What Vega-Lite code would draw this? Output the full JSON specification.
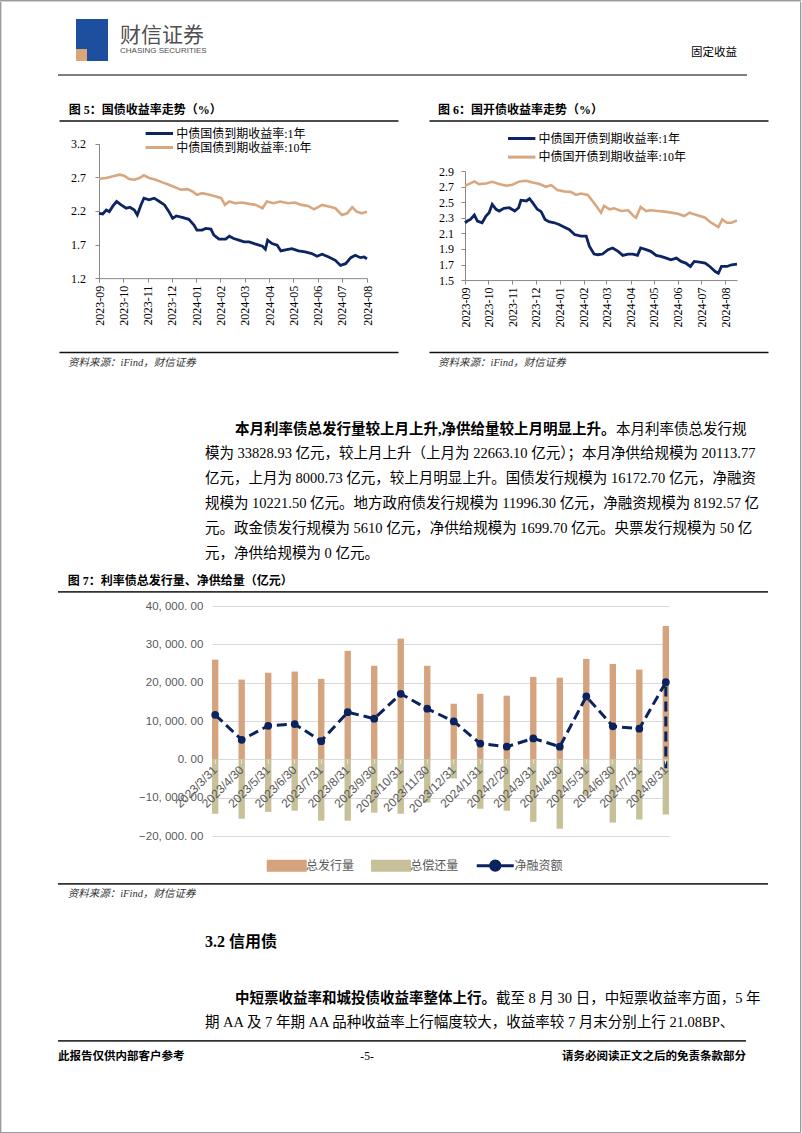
{
"$schema": "https://vega.github.io/schema/vega-lite/v6.json",
"background": "white",
"padding": 0,
"spacing": 0,
"resolve": {"scale": {"color": "independent"}},
"config": {
  "view": {"stroke": null},
  "title": {"anchor": "start", "frame": "group", "orient": "top", "baseline": "alphabetic", "color": "#000", "font": "Liberation Serif, Noto Sans CJK SC", "fontWeight": "normal"}
},
"datasets": {
  "g1": [
    {"d":"2023-09-01","v":2.165},{"d":"2023-09-06","v":2.155},{"d":"2023-09-11","v":2.215},{"d":"2023-09-15","v":2.19},{"d":"2023-09-20","v":2.275},{"d":"2023-09-25","v":2.34},{"d":"2023-10-01","v":2.29},{"d":"2023-10-08","v":2.24},{"d":"2023-10-13","v":2.255},{"d":"2023-10-19","v":2.215},{"d":"2023-10-23","v":2.14},{"d":"2023-10-28","v":2.29},{"d":"2023-11-01","v":2.39},{"d":"2023-11-08","v":2.365},{"d":"2023-11-15","v":2.39},{"d":"2023-11-22","v":2.34},{"d":"2023-11-29","v":2.29},{"d":"2023-12-05","v":2.19},{"d":"2023-12-10","v":2.09},{"d":"2023-12-15","v":2.125},{"d":"2023-12-23","v":2.105},{"d":"2024-01-01","v":2.075},{"d":"2024-01-08","v":1.99},{"d":"2024-01-12","v":1.915},{"d":"2024-01-19","v":1.915},{"d":"2024-01-24","v":1.94},{"d":"2024-01-31","v":1.93},{"d":"2024-02-04","v":1.84},{"d":"2024-02-11","v":1.78},{"d":"2024-02-20","v":1.78},{"d":"2024-02-25","v":1.825},{"d":"2024-03-02","v":1.79},{"d":"2024-03-09","v":1.765},{"d":"2024-03-16","v":1.74},{"d":"2024-03-23","v":1.74},{"d":"2024-04-01","v":1.705},{"d":"2024-04-10","v":1.675},{"d":"2024-04-14","v":1.63},{"d":"2024-04-17","v":1.765},{"d":"2024-04-23","v":1.715},{"d":"2024-04-30","v":1.69},{"d":"2024-05-05","v":1.605},{"d":"2024-05-13","v":1.625},{"d":"2024-05-20","v":1.64},{"d":"2024-05-29","v":1.605},{"d":"2024-06-07","v":1.59},{"d":"2024-06-16","v":1.565},{"d":"2024-06-23","v":1.525},{"d":"2024-06-30","v":1.555},{"d":"2024-07-09","v":1.515},{"d":"2024-07-18","v":1.465},{"d":"2024-07-25","v":1.39},{"d":"2024-08-01","v":1.415},{"d":"2024-08-08","v":1.505},{"d":"2024-08-14","v":1.54},{"d":"2024-08-21","v":1.505},{"d":"2024-08-26","v":1.515},{"d":"2024-08-30","v":1.49}
  ],
  "g10": [
    {"d":"2023-09-01","v":2.68},{"d":"2023-09-11","v":2.69},{"d":"2023-09-20","v":2.715},{"d":"2023-09-29","v":2.74},{"d":"2023-10-05","v":2.725},{"d":"2023-10-12","v":2.675},{"d":"2023-10-19","v":2.665},{"d":"2023-10-26","v":2.69},{"d":"2023-11-01","v":2.73},{"d":"2023-11-08","v":2.69},{"d":"2023-11-17","v":2.665},{"d":"2023-11-26","v":2.625},{"d":"2023-12-05","v":2.59},{"d":"2023-12-14","v":2.55},{"d":"2023-12-21","v":2.515},{"d":"2023-12-30","v":2.525},{"d":"2024-01-06","v":2.49},{"d":"2024-01-12","v":2.44},{"d":"2024-01-19","v":2.465},{"d":"2024-01-29","v":2.44},{"d":"2024-02-07","v":2.415},{"d":"2024-02-14","v":2.39},{"d":"2024-02-19","v":2.29},{"d":"2024-02-25","v":2.34},{"d":"2024-03-04","v":2.315},{"d":"2024-03-13","v":2.325},{"d":"2024-03-23","v":2.305},{"d":"2024-04-01","v":2.29},{"d":"2024-04-10","v":2.24},{"d":"2024-04-16","v":2.34},{"d":"2024-04-25","v":2.315},{"d":"2024-05-04","v":2.34},{"d":"2024-05-15","v":2.315},{"d":"2024-05-24","v":2.325},{"d":"2024-06-02","v":2.29},{"d":"2024-06-11","v":2.275},{"d":"2024-06-19","v":2.225},{"d":"2024-06-30","v":2.29},{"d":"2024-07-09","v":2.265},{"d":"2024-07-18","v":2.24},{"d":"2024-07-27","v":2.14},{"d":"2024-08-03","v":2.165},{"d":"2024-08-10","v":2.255},{"d":"2024-08-16","v":2.19},{"d":"2024-08-23","v":2.165},{"d":"2024-08-30","v":2.19}
  ],
  "k1": [
    {"d":"2023-09-01","v":2.238},{"d":"2023-09-04","v":2.26},{"d":"2023-09-08","v":2.281},{"d":"2023-09-13","v":2.337},{"d":"2023-09-17","v":2.259},{"d":"2023-09-23","v":2.238},{"d":"2023-09-28","v":2.324},{"d":"2023-10-02","v":2.368},{"d":"2023-10-06","v":2.476},{"d":"2023-10-11","v":2.411},{"d":"2023-10-15","v":2.389},{"d":"2023-10-21","v":2.424},{"d":"2023-10-28","v":2.432},{"d":"2023-11-04","v":2.389},{"d":"2023-11-09","v":2.432},{"d":"2023-11-12","v":2.528},{"d":"2023-11-19","v":2.519},{"d":"2023-11-23","v":2.549},{"d":"2023-11-27","v":2.497},{"d":"2023-12-03","v":2.411},{"d":"2023-12-08","v":2.381},{"d":"2023-12-13","v":2.281},{"d":"2023-12-18","v":2.251},{"d":"2023-12-25","v":2.238},{"d":"2023-12-31","v":2.216},{"d":"2024-01-07","v":2.181},{"d":"2024-01-13","v":2.151},{"d":"2024-01-20","v":2.086},{"d":"2024-01-28","v":2.065},{"d":"2024-02-04","v":2.065},{"d":"2024-02-08","v":1.935},{"d":"2024-02-14","v":1.835},{"d":"2024-02-19","v":1.826},{"d":"2024-02-25","v":1.835},{"d":"2024-03-03","v":1.891},{"d":"2024-03-09","v":1.913},{"d":"2024-03-16","v":1.87},{"d":"2024-03-22","v":1.818},{"d":"2024-03-29","v":1.835},{"d":"2024-04-04","v":1.835},{"d":"2024-04-10","v":1.818},{"d":"2024-04-14","v":1.913},{"d":"2024-04-21","v":1.891},{"d":"2024-04-27","v":1.87},{"d":"2024-05-04","v":1.818},{"d":"2024-05-10","v":1.805},{"d":"2024-05-17","v":1.783},{"d":"2024-05-23","v":1.761},{"d":"2024-05-30","v":1.783},{"d":"2024-06-05","v":1.74},{"d":"2024-06-11","v":1.718},{"d":"2024-06-17","v":1.675},{"d":"2024-06-22","v":1.74},{"d":"2024-06-29","v":1.731},{"d":"2024-07-06","v":1.718},{"d":"2024-07-12","v":1.675},{"d":"2024-07-19","v":1.61},{"d":"2024-07-23","v":1.588},{"d":"2024-07-27","v":1.675},{"d":"2024-08-03","v":1.675},{"d":"2024-08-09","v":1.697},{"d":"2024-08-16","v":1.705}
  ],
  "k10": [
    {"d":"2023-09-01","v":2.714},{"d":"2023-09-06","v":2.736},{"d":"2023-09-13","v":2.77},{"d":"2023-09-19","v":2.736},{"d":"2023-09-28","v":2.744},{"d":"2023-10-06","v":2.766},{"d":"2023-10-15","v":2.736},{"d":"2023-10-24","v":2.714},{"d":"2023-11-01","v":2.727},{"d":"2023-11-10","v":2.77},{"d":"2023-11-19","v":2.779},{"d":"2023-11-27","v":2.757},{"d":"2023-12-06","v":2.736},{"d":"2023-12-14","v":2.701},{"d":"2023-12-21","v":2.723},{"d":"2023-12-29","v":2.658},{"d":"2024-01-07","v":2.64},{"d":"2024-01-15","v":2.636},{"d":"2024-01-22","v":2.597},{"d":"2024-01-28","v":2.614},{"d":"2024-02-06","v":2.597},{"d":"2024-02-12","v":2.519},{"d":"2024-02-19","v":2.424},{"d":"2024-02-23","v":2.368},{"d":"2024-02-27","v":2.454},{"d":"2024-03-05","v":2.411},{"d":"2024-03-11","v":2.424},{"d":"2024-03-20","v":2.389},{"d":"2024-03-29","v":2.398},{"d":"2024-04-05","v":2.324},{"d":"2024-04-08","v":2.303},{"d":"2024-04-14","v":2.441},{"d":"2024-04-21","v":2.389},{"d":"2024-04-27","v":2.398},{"d":"2024-05-06","v":2.389},{"d":"2024-05-15","v":2.381},{"d":"2024-05-23","v":2.368},{"d":"2024-06-01","v":2.355},{"d":"2024-06-09","v":2.324},{"d":"2024-06-16","v":2.368},{"d":"2024-06-22","v":2.346},{"d":"2024-06-29","v":2.324},{"d":"2024-07-06","v":2.303},{"d":"2024-07-12","v":2.251},{"d":"2024-07-19","v":2.207},{"d":"2024-07-23","v":2.181},{"d":"2024-07-28","v":2.281},{"d":"2024-08-03","v":2.238},{"d":"2024-08-09","v":2.238},{"d":"2024-08-16","v":2.268}
  ],
  "f7": [
    {"月份":"2023/3/31","总发行量":26000,"总偿还量":-14200,"净融资额":11600},
    {"月份":"2023/4/30","总发行量":20800,"总偿还量":-15500,"净融资额":5100},
    {"月份":"2023/5/31","总发行量":22600,"总偿还量":-13700,"净融资额":8750},
    {"月份":"2023/6/30","总发行量":22900,"总偿还量":-13400,"净融资额":9200},
    {"月份":"2023/7/31","总发行量":21000,"总偿还量":-16000,"净融资额":4750},
    {"月份":"2023/8/31","总发行量":28300,"总偿还量":-16000,"净融资额":12300},
    {"月份":"2023/9/30","总发行量":24400,"总偿还量":-13900,"净融资额":10600},
    {"月份":"2023/10/31","总发行量":31500,"总偿还量":-14200,"净融资额":17100},
    {"月份":"2023/11/30","总发行量":24400,"总偿还量":-11300,"净融资额":13200},
    {"月份":"2023/12/31","总发行量":14500,"总偿还量":-5000,"净融资额":9900},
    {"月份":"2024/1/31","总发行量":17100,"总偿还量":-12900,"净融资额":4100},
    {"月份":"2024/2/29","总发行量":16600,"总偿还量":-13400,"净融资额":3300},
    {"月份":"2024/3/31","总发行量":21500,"总偿还量":-16300,"净融资额":5450},
    {"月份":"2024/4/30","总发行量":21300,"总偿还量":-18100,"净融资额":3300},
    {"月份":"2024/5/31","总发行量":26200,"总偿还量":-9500,"净融资额":16400},
    {"月份":"2024/6/30","总发行量":24900,"总偿还量":-16500,"净融资额":8600},
    {"月份":"2024/7/31","总发行量":23400,"总偿还量":-15700,"净融资额":8000.73},
    {"月份":"2024/8/31","总发行量":34800,"总偿还量":-14400,"净融资额":20113.77}
  ],
  "f7line": [
    {"月份":"2023/3/31","净融资额":11600,"seq":1},{"月份":"2023/4/30","净融资额":5100,"seq":2},{"月份":"2023/5/31","净融资额":8750,"seq":3},{"月份":"2023/6/30","净融资额":9200,"seq":4},{"月份":"2023/7/31","净融资额":4750,"seq":5},{"月份":"2023/8/31","净融资额":12300,"seq":6},{"月份":"2023/9/30","净融资额":10600,"seq":7},{"月份":"2023/10/31","净融资额":17100,"seq":8},{"月份":"2023/11/30","净融资额":13200,"seq":9},{"月份":"2023/12/31","净融资额":9900,"seq":10},{"月份":"2024/1/31","净融资额":4100,"seq":11},{"月份":"2024/2/29","净融资额":3300,"seq":12},{"月份":"2024/3/31","净融资额":5450,"seq":13},{"月份":"2024/4/30","净融资额":3300,"seq":14},{"月份":"2024/5/31","净融资额":16400,"seq":15},{"月份":"2024/6/30","净融资额":8600,"seq":16},{"月份":"2024/7/31","净融资额":8000.73,"seq":17},{"月份":"2024/8/31","净融资额":20113.77,"seq":18},{"月份":"2024/8/31","净融资额":-2300,"seq":19}
  ]
},
"vconcat": [
 {"width": 801, "height": 1.2, "data": {"values": [{}]}, "mark": {"type": "rect", "color": "#9a9a9a"}, "view": {"fill": "#9a9a9a", "stroke": null}},
 {"hconcat": [
  {"width": 1.2, "height": 1129.8, "data": {"values": [{}]}, "mark": {"type": "rect", "color": "#9a9a9a"}, "view": {"fill": "#9a9a9a", "stroke": null}},
  {"width": 55.8, "height": 0, "data": {"values": []}, "mark": "point"},
  {"vconcat": [
  {"width": 1, "height": 16.8, "data": {"values": []}, "mark": "point"},
  {"hconcat": [
    {"width": 18, "height": 42, "data": {"values": []}, "mark": "point"},
    {"vconcat": [
      {"width": 32, "height": 30, "data": {"values": [{}]}, "mark": {"type": "rect", "color": "#1d4f9f"}, "view": {"fill": "#1d4f9f", "stroke": null}},
      {"hconcat": [
        {"width": 11, "height": 12, "data": {"values": [{}]}, "mark": {"type": "rect", "color": "#d9a679"}, "view": {"fill": "#d9a679", "stroke": null}},
        {"width": 21, "height": 12, "data": {"values": [{}]}, "mark": {"type": "rect", "color": "#1d4f9f"}, "view": {"fill": "#1d4f9f", "stroke": null}}
      ], "spacing": 0}
    ], "spacing": 0},
    {"width": 12, "height": 42, "data": {"values": []}, "mark": "point"},
    {"width": 100, "height": 42, "data": {"values": []}, "mark": "point",
     "title": {"text": "财信证券", "font": "Noto Sans CJK SC", "fontSize": 21, "color": "#505050", "offset": -36, "subtitle": "CHASING SECURITIES", "subtitleFont": "Liberation Sans", "subtitleFontSize": 8, "subtitleColor": "#505050", "subtitlePadding": 1}},
    {"width": 528, "height": 42, "data": {"values": []}, "mark": "point",
     "title": {"text": "固定收益", "anchor": "end", "font": "Noto Sans CJK SC", "fontSize": 11.5, "offset": -39, "dx": -11}}
  ], "spacing": 0},
  {"width": 1, "height": 12.5, "data": {"values": []}, "mark": "point"},
  {"width": 689, "height": 2, "data": {"values": [{}]}, "mark": {"type": "rect", "color": "#7f7f7f"}, "view": {"fill": "#7f7f7f", "stroke": null}},
  {"hconcat": [
    {"width": 1, "height": 0, "data": {"values": []}, "mark": "point"},
    {"vconcat": [
      {"width": 339, "height": 44.5, "data": {"values": []}, "mark": {"type": "point", "opacity": 0},
       "encoding": {"x": {"datum": 0, "type": "quantitative", "scale": {"domain": [0, 1]},
                          "axis": {"orient": "bottom", "title": null, "labels": false, "ticks": false, "grid": false, "domainColor": "#111", "domainWidth": 1.3}}},
       "title": {"text": "图 5：国债收益率走势（%）", "fontSize": 12, "fontWeight": "bold", "offset": -40.5, "dx": 9.7}},
      {"width": 1, "height": 4.55, "data": {"values": []}, "mark": "point"},
      {"hconcat": [
        {"width": 10.3, "height": 0, "data": {"values": []}, "mark": "point"},
        {"width": 268, "height": 152.15,
         "encoding": {
           "x": {"field": "d", "type": "temporal",
                 "scale": {"type": "utc", "domain": [{"year": 2023, "month": 9, "date": 1, "utc": true}, {"year": 2024, "month": 8, "date": 30, "utc": true}]},
                 "axis": {"title": null, "grid": false,
                          "values": [{"year":2023,"month":9,"date":1,"utc":true},{"year":2023,"month":10,"date":4,"utc":true},{"year":2023,"month":11,"date":6,"utc":true},{"year":2023,"month":12,"date":9,"utc":true},{"year":2024,"month":1,"date":11,"utc":true},{"year":2024,"month":2,"date":13,"utc":true},{"year":2024,"month":3,"date":17,"utc":true},{"year":2024,"month":4,"date":19,"utc":true},{"year":2024,"month":5,"date":22,"utc":true},{"year":2024,"month":6,"date":24,"utc":true},{"year":2024,"month":7,"date":27,"utc":true},{"year":2024,"month":8,"date":30,"utc":true}],
                          "labelExpr": "utcFormat(datum.value, '%Y-%m')",
                          "labelAngle": 270, "labelAlign": "right", "labelBaseline": "middle", "labelPadding": 3,
                          "labelFlush": false, "labelOverlap": false,
                          "tickSize": 4, "tickColor": "#898989", "domainColor": "#898989",
                          "labelFont": "Liberation Serif", "labelFontSize": 12, "labelColor": "#000"}},
           "y": {"field": "v", "type": "quantitative",
                 "scale": {"domain": [1.2, 3.2], "nice": false, "zero": false, "range": [152.15, 17.75]},
                 "axis": {"title": null, "grid": false, "values": [1.2, 1.7, 2.2, 2.7, 3.2], "format": ".1f", "labelOverlap": false,
                          "tickSize": 4, "tickColor": "#898989", "domainColor": "#898989", "labelPadding": 9.4,
                          "labelFont": "Liberation Serif", "labelFontSize": 12, "labelColor": "#000"}}
         },
         "layer": [
           {"data": {"name": "g10"}, "mark": {"type": "line", "strokeWidth": 2.6},
            "encoding": {"color": {"datum": "中债国债到期收益率:10年",
              "scale": {"domain": ["中债国债到期收益率:1年", "中债国债到期收益率:10年"], "range": ["#0c2461", "#d8a780"]},
              "legend": {"orient": "none", "legendX": 52.8, "legendY": 0, "direction": "vertical", "title": null, "padding": 0,
                         "symbolType": "M-2.4,0H2.4", "symbolSize": 130, "symbolStrokeWidth": 3, "labelOffset": 9.4, "rowPadding": 0,
                         "labelFont": "Liberation Serif, Noto Sans CJK SC", "labelFontSize": 12, "labelColor": "#000"}}}},
           {"data": {"name": "g1"}, "mark": {"type": "line", "strokeWidth": 2.8},
            "encoding": {"color": {"datum": "中债国债到期收益率:1年"}}}
         ]}
      ], "spacing": 0, "resolve": {"scale": {"color": "independent"}}},
      {"width": 1, "height": 25.9, "data": {"values": []}, "mark": "point"},
      {"width": 339, "height": 29.4, "data": {"values": []}, "mark": {"type": "point", "opacity": 0},
       "encoding": {"x": {"datum": 0, "type": "quantitative", "scale": {"domain": [0, 1]},
                          "axis": {"orient": "top", "title": null, "labels": false, "ticks": false, "grid": false, "domainColor": "#111", "domainWidth": 1.3}}},
       "title": {"text": "资料来源：iFind，财信证券", "fontSize": 10.5, "fontStyle": "italic", "color": "#333", "offset": -16.4, "dx": 9}}
    ], "spacing": 0, "resolve": {"scale": {"color": "independent"}}},
    {"width": 31, "height": 0, "data": {"values": []}, "mark": "point"},
    {"vconcat": [
      {"width": 339, "height": 44.5, "data": {"values": []}, "mark": {"type": "point", "opacity": 0},
       "encoding": {"x": {"datum": 0, "type": "quantitative", "scale": {"domain": [0, 1]},
                          "axis": {"orient": "bottom", "title": null, "labels": false, "ticks": false, "grid": false, "domainColor": "#111", "domainWidth": 1.3}}},
       "title": {"text": "图 6：国开债收益率走势（%）", "fontSize": 12, "fontWeight": "bold", "offset": -40.5, "dx": 9}},
      {"width": 1, "height": 9.95, "data": {"values": []}, "mark": "point"},
      {"hconcat": [
        {"width": 8.7, "height": 0, "data": {"values": []}, "mark": "point"},
        {"width": 272, "height": 149.05,
         "encoding": {
           "x": {"field": "d", "type": "temporal",
                 "scale": {"type": "utc", "domain": [{"year": 2023, "month": 9, "date": 1, "utc": true}, {"year": 2024, "month": 8, "date": 16, "utc": true}]},
                 "axis": {"title": null, "grid": false,
                          "values": [{"year":2023,"month":9,"date":1,"utc":true},{"year":2023,"month":10,"date":1,"utc":true},{"year":2023,"month":11,"date":1,"utc":true},{"year":2023,"month":12,"date":1,"utc":true},{"year":2024,"month":1,"date":1,"utc":true},{"year":2024,"month":2,"date":1,"utc":true},{"year":2024,"month":3,"date":1,"utc":true},{"year":2024,"month":4,"date":1,"utc":true},{"year":2024,"month":5,"date":1,"utc":true},{"year":2024,"month":6,"date":1,"utc":true},{"year":2024,"month":7,"date":1,"utc":true},{"year":2024,"month":8,"date":1,"utc":true}],
                          "labelExpr": "utcFormat(datum.value, '%Y-%m')",
                          "labelAngle": 270, "labelAlign": "right", "labelBaseline": "middle", "labelPadding": 3,
                          "labelFlush": false, "labelOverlap": false,
                          "tickSize": 4, "tickColor": "#898989", "domainColor": "#898989",
                          "labelFont": "Liberation Serif", "labelFontSize": 12, "labelColor": "#000"}},
           "y": {"field": "v", "type": "quantitative",
                 "scale": {"domain": [1.5, 2.9], "nice": false, "zero": false, "range": [149.05, 40.35]},
                 "axis": {"title": null, "grid": false, "values": [1.5, 1.7, 1.9, 2.1, 2.3, 2.5, 2.7, 2.9], "format": ".1f", "labelOverlap": false,
                          "tickSize": 4, "tickColor": "#898989", "domainColor": "#898989", "labelPadding": 7.6,
                          "labelFont": "Liberation Serif", "labelFontSize": 12, "labelColor": "#000"}}
         },
         "layer": [
           {"data": {"name": "k10"}, "mark": {"type": "line", "strokeWidth": 2.6},
            "encoding": {"color": {"datum": "中债国开债到期收益率:10年",
              "scale": {"domain": ["中债国开债到期收益率:1年", "中债国开债到期收益率:10年"], "range": ["#0c2461", "#d8a780"]},
              "legend": {"orient": "none", "legendX": 49.2, "legendY": 0, "direction": "vertical", "title": null, "padding": 0,
                         "symbolType": "M-2.4,0H2.4", "symbolSize": 130, "symbolStrokeWidth": 3, "labelOffset": 9.4, "rowPadding": 4.6,
                         "labelFont": "Liberation Serif, Noto Sans CJK SC", "labelFontSize": 12, "labelColor": "#000"}}}},
           {"data": {"name": "k1"}, "mark": {"type": "line", "strokeWidth": 2.8},
            "encoding": {"color": {"datum": "中债国开债到期收益率:1年"}}}
         ]}
      ], "spacing": 0, "resolve": {"scale": {"color": "independent"}}},
      {"width": 1, "height": 23.6, "data": {"values": []}, "mark": "point"},
      {"width": 339, "height": 29.4, "data": {"values": []}, "mark": {"type": "point", "opacity": 0},
       "encoding": {"x": {"datum": 0, "type": "quantitative", "scale": {"domain": [0, 1]},
                          "axis": {"orient": "top", "title": null, "labels": false, "ticks": false, "grid": false, "domainColor": "#111", "domainWidth": 1.3}}},
       "title": {"text": "资料来源：iFind，财信证券", "fontSize": 10.5, "fontStyle": "italic", "color": "#333", "offset": -16.4, "dx": 9}}
    ], "spacing": 0, "resolve": {"scale": {"color": "independent"}}}
  ], "spacing": 0, "resolve": {"scale": {"color": "independent"}}},
  {"hconcat": [
    {"width": 177, "height": 0, "data": {"values": []}, "mark": "point"},
    {"width": 1, "height": 62, "data": {"values": []}, "mark": "point",
     "title": {"text": "本月利率债总发行量较上月上升,净供给量较上月明显上升。", "fontSize": 14.5, "fontWeight": "bold", "offset": -55}},
    {"width": 1, "height": 62, "data": {"values": []}, "mark": "point",
     "title": {"text": "本月利率债总发行规", "fontSize": 14.5, "offset": -55}}
  ], "spacing": 0},
  {"width": 689, "height": 24.2, "data": {"values": []}, "mark": "point",
   "title": {"text": "模为 33828.93 亿元，较上月上升（上月为 22663.10 亿元）；本月净供给规模为 20113.77", "fontSize": 14.5, "offset": -17.2, "dx": 147}},
  {"width": 689, "height": 24.2, "data": {"values": []}, "mark": "point",
   "title": {"text": "亿元，上月为 8000.73 亿元，较上月明显上升。国债发行规模为 16172.70 亿元，净融资", "fontSize": 14.5, "offset": -17.2, "dx": 147}},
  {"width": 689, "height": 24.2, "data": {"values": []}, "mark": "point",
   "title": {"text": "规模为 10221.50 亿元。地方政府债发行规模为 11996.30 亿元，净融资规模为 8192.57 亿", "fontSize": 14.5, "offset": -17.2, "dx": 147}},
  {"width": 689, "height": 24.2, "data": {"values": []}, "mark": "point",
   "title": {"text": "元。政金债发行规模为 5610 亿元，净供给规模为 1699.70 亿元。央票发行规模为 50 亿", "fontSize": 14.5, "offset": -17.2, "dx": 147}},
  {"width": 689, "height": 20.2, "data": {"values": []}, "mark": "point",
   "title": {"text": "元，净供给规模为 0 亿元。", "fontSize": 14.5, "offset": -17.2, "dx": 147}},
  {"width": 710, "height": 26, "data": {"values": []}, "mark": "point",
   "title": {"text": "图 7：利率债总发行量、净供给量（亿元）", "fontSize": 12, "fontWeight": "bold", "offset": -22.5, "dx": 9.7}},
  {"width": 710, "height": 1.5, "data": {"values": [{}]}, "mark": {"type": "rect", "color": "#333"}, "view": {"fill": "#333", "stroke": null}},
  {"width": 1, "height": 4.8, "data": {"values": []}, "mark": "point"},
  {"hconcat": [
    {"width": 79.5, "height": 0, "data": {"values": []}, "mark": "point"},
    {"width": 457, "height": 279,
     "layer": [
       {"data": {"name": "f7"},
        "transform": [{"fold": ["总发行量", "总偿还量"], "as": ["series", "value"]}],
        "mark": {"type": "bar"},
        "encoding": {
          "x": {"field": "月份", "type": "nominal", "sort": null,
                "scale": {"paddingInner": 0.76, "paddingOuter": 0},
                "axis": {"title": null, "orient": "bottom", "offset": -117.67, "zindex": 1, "labelAngle": -45, "labelAlign": "right", "labelBaseline": "middle",
                         "labelPadding": 4, "labelFont": "Liberation Sans", "labelFontSize": 12, "labelColor": "#595959", "labelOverlap": false,
                         "domain": false, "ticks": true, "tickSize": 4, "tickColor": "#e3e3e3"}},
          "y": {"field": "value", "type": "quantitative", "stack": null,
                "scale": {"domain": [-20000, 40000], "nice": false, "zero": false, "range": [238, 8]},
                "axis": {"title": null, "values": [-20000, -10000, 0, 10000, 20000, 30000, 40000], "grid": true, "gridColor": "#d9d9d9", "labelOverlap": false,
                         "domain": false, "ticks": false, "labelPadding": 9.2, "labelFont": "Liberation Sans", "labelFontSize": 11.5, "labelColor": "#595959",
                         "labelExpr": "replace(replace(format(datum.value, ',.2f'), ',', ', '), '.', '. ')"}},
          "color": {"field": "series", "type": "nominal",
                    "scale": {"domain": ["总发行量", "总偿还量", "净融资额"], "range": ["#D5A37D", "#C7C099", "#0A235F"]},
                    "legend": {"orient": "none", "legendX": 63.75, "legendY": 256.45, "direction": "horizontal", "title": null, "padding": 0,
                               "symbolSize": 342, "symbolType": "M-2,-0.48H2V0.48H-2Z", "labelOffset": 8.25, "columnPadding": 11.25,
                               "labelFont": "Noto Sans CJK SC", "labelFontSize": 12, "labelColor": "#595959",
                               "encode": {"symbols": {"update": {
                                 "shape": {"signal": "datum.value === '净融资额' ? 'M-2,0H2M-0.5,0A0.5,0.5,0,1,1,0.5,0A0.5,0.5,0,1,1,-0.5,0Z' : 'M-2,-0.48H2V0.48H-2Z'"},
                                 "fill": {"signal": "datum.value === '总发行量' ? '#D5A37D' : datum.value === '总偿还量' ? '#C7C099' : '#0A235F'"},
                                 "stroke": {"signal": "datum.value === '净融资额' ? '#0A235F' : 'transparent'"},
                                 "strokeWidth": {"value": 3}, "opacity": {"value": 1}, "fillOpacity": {"value": 1}, "strokeOpacity": {"value": 1}}}}}}
        }},
       {"data": {"name": "f7line"},
        "mark": {"type": "line", "strokeWidth": 3, "strokeDash": [10, 5]},
        "encoding": {
          "x": {"field": "月份", "type": "nominal", "sort": null},
          "y": {"field": "净融资额", "type": "quantitative",
                "axis": {"title": null, "values": [-20000, -10000, 0, 10000, 20000, 30000, 40000], "grid": true, "gridColor": "#d9d9d9", "labelOverlap": false,
                         "domain": false, "ticks": false, "labelPadding": 9.2, "labelFont": "Liberation Sans", "labelFontSize": 11.5, "labelColor": "#595959",
                         "labelExpr": "replace(replace(format(datum.value, ',.2f'), ',', ', '), '.', '. ')"}},
          "order": {"field": "seq", "type": "quantitative"},
          "color": {"datum": "净融资额"}
        }},
       {"data": {"name": "f7"},
        "mark": {"type": "point", "filled": true, "size": 60, "opacity": 1},
        "encoding": {
          "x": {"field": "月份", "type": "nominal", "sort": null},
          "y": {"field": "净融资额", "type": "quantitative",
                "axis": {"title": null, "values": [-20000, -10000, 0, 10000, 20000, 30000, 40000], "grid": true, "gridColor": "#d9d9d9", "labelOverlap": false,
                         "domain": false, "ticks": false, "labelPadding": 9.2, "labelFont": "Liberation Sans", "labelFontSize": 11.5, "labelColor": "#595959",
                         "labelExpr": "replace(replace(format(datum.value, ',.2f'), ',', ', '), '.', '. ')"}},
          "color": {"datum": "净融资额"}
        }}
     ]}
  ], "spacing": 0, "resolve": {"scale": {"color": "independent"}}},
  {"width": 1, "height": 5.7, "data": {"values": []}, "mark": "point"},
  {"width": 710, "height": 1.5, "data": {"values": [{}]}, "mark": {"type": "rect", "color": "#333"}, "view": {"fill": "#333", "stroke": null}},
  {"width": 689, "height": 27.5, "data": {"values": []}, "mark": "point",
   "title": {"text": "资料来源：iFind，财信证券", "fontSize": 10.5, "fontStyle": "italic", "color": "#333", "offset": -14.5, "dx": 9.7}},
  {"width": 689, "height": 45, "data": {"values": []}, "mark": "point",
   "title": {"text": "3.2 信用债", "fontSize": 16, "fontWeight": "bold", "offset": -37, "dx": 147}},
  {"hconcat": [
    {"width": 177, "height": 0, "data": {"values": []}, "mark": "point"},
    {"width": 1, "height": 55, "data": {"values": []}, "mark": "point",
     "title": {"text": "中短票收益率和城投债收益率整体上行。", "fontSize": 14.5, "fontWeight": "bold", "offset": -48}},
    {"width": 1, "height": 55, "data": {"values": []}, "mark": "point",
     "title": {"text": "截至 8 月 30 日，中短票收益率方面，5 年", "fontSize": 14.5, "offset": -48}}
  ], "spacing": 0},
  {"width": 689, "height": 22, "data": {"values": []}, "mark": "point",
   "title": {"text": "期 AA 及 7 年期 AA 品种收益率上行幅度较大，收益率较 7 月末分别上行 21.08BP、", "fontSize": 14.5, "offset": -17, "dx": 147}},
  {"width": 1, "height": 4.3, "data": {"values": []}, "mark": "point"},
  {"width": 688, "height": 1.5, "data": {"values": [{}]}, "mark": {"type": "rect", "color": "#333"}, "view": {"fill": "#333", "stroke": null}},
  {"hconcat": [
    {"width": 298, "height": 27, "data": {"values": []}, "mark": "point",
     "title": {"text": "此报告仅供内部客户参考", "fontSize": 11.5, "fontWeight": "bold", "offset": -20.2}},
    {"width": 22, "height": 27, "data": {"values": []}, "mark": "point",
     "title": {"text": "-5-", "anchor": "middle", "fontSize": 11.5, "offset": -20.2}},
    {"width": 368, "height": 27, "data": {"values": []}, "mark": "point",
     "title": {"text": "请务必阅读正文之后的免责条款部分", "anchor": "end", "fontSize": 11.5, "fontWeight": "bold", "offset": -20.2}}
  ], "spacing": 0}
  ], "spacing": 0, "resolve": {"scale": {"color": "independent"}}},
  {"width": 32, "height": 0, "data": {"values": []}, "mark": "point"},
  {"width": 1.2, "height": 1129.8, "data": {"values": [{}]}, "mark": {"type": "rect", "color": "#9a9a9a"}, "view": {"fill": "#9a9a9a", "stroke": null}}
 ], "spacing": 0, "resolve": {"scale": {"color": "independent"}}},
 {"width": 801, "height": 1.2, "data": {"values": [{}]}, "mark": {"type": "rect", "color": "#9a9a9a"}, "view": {"fill": "#9a9a9a", "stroke": null}}
]
}
